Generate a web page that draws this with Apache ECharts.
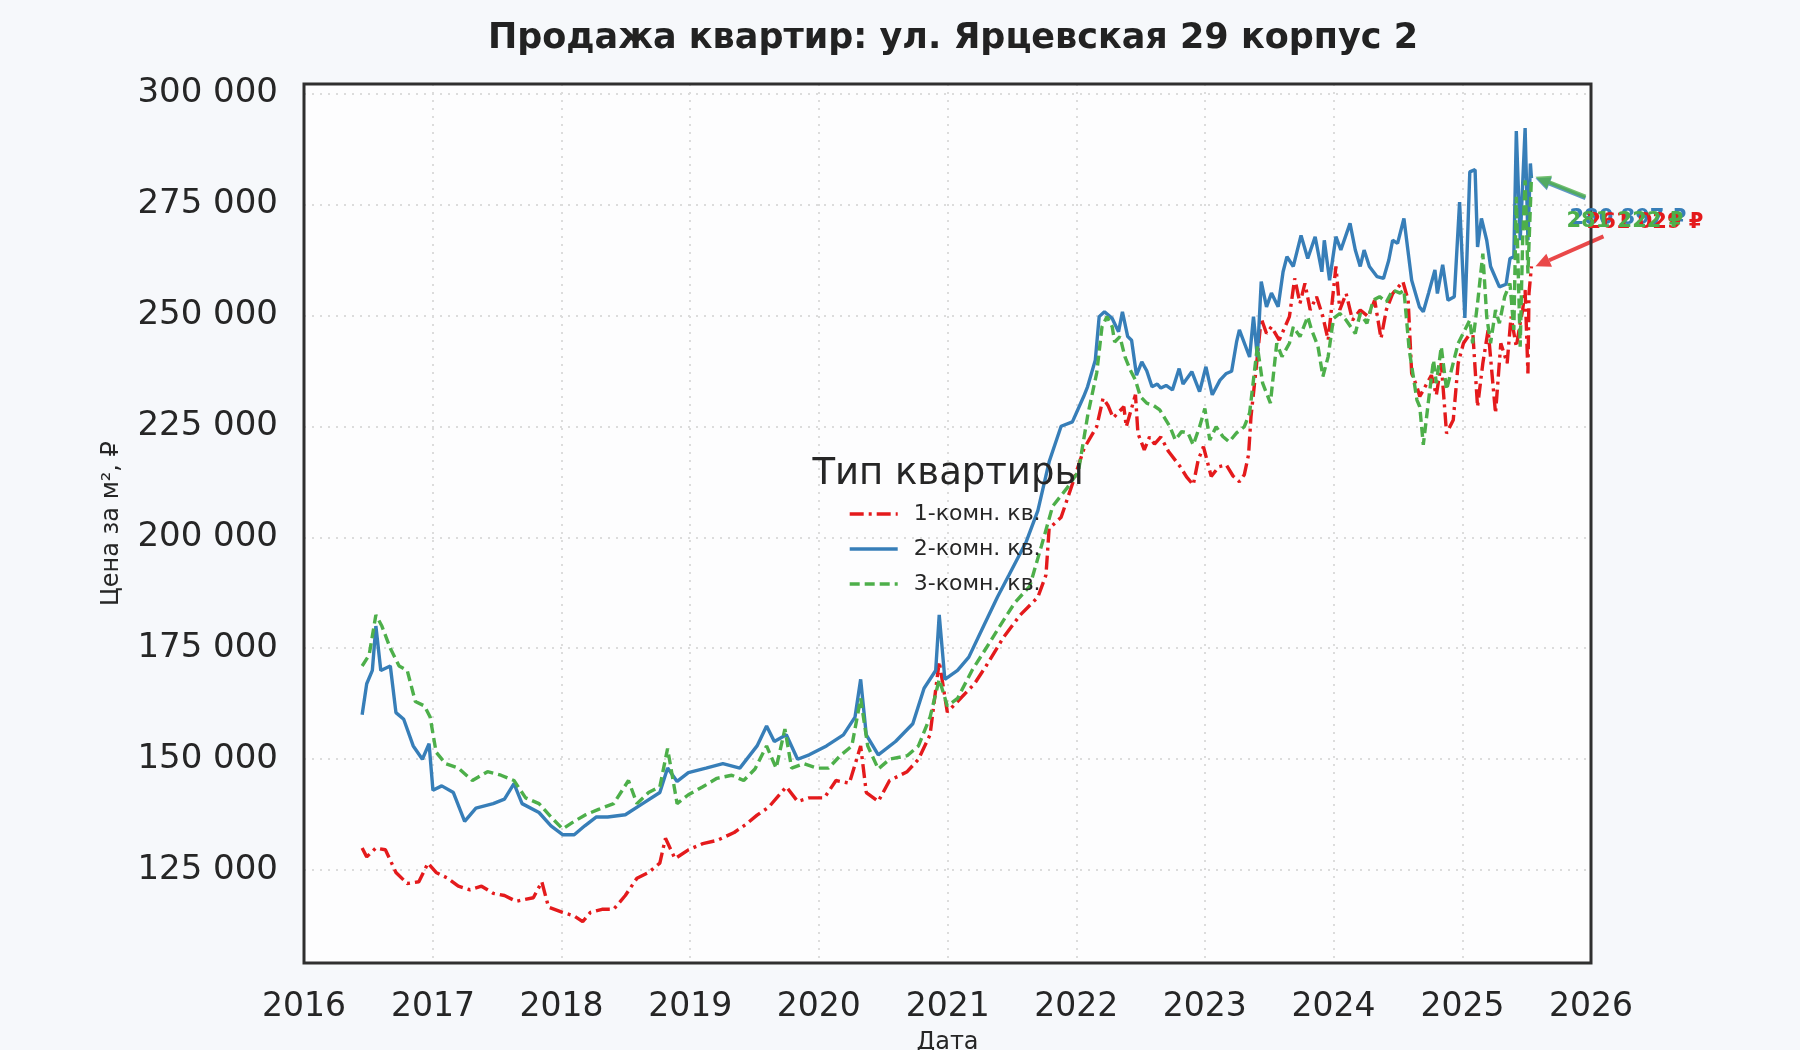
<!DOCTYPE html>
<html>
<head>
<meta charset="utf-8">
<script src="https://cdn.jsdelivr.net/npm/echarts@6/dist/echarts.min.js"></script>
<style>
  html, body { margin: 0; padding: 0; background: #f6f8fb; }
  #chart { width: 1800px; height: 1050px; }
</style>
</head>
<body>
<div id="chart"></div>
<script>
  // --- data ---
  const seriesNames = ['1-комн. кв.', '2-комн. кв.', '3-комн. кв.'];
  const yTicks = [125000, 150000, 175000, 200000, 225000, 250000, 275000, 300000];
  const xYears = [2016, 2017, 2018, 2019, 2020, 2021, 2022, 2023, 2024, 2025, 2026];

  // 1-комн.
  const redDates = [
    '2016-06-14', '2016-06-27', '2016-07-23', '2016-08-19', '2016-09-18', '2016-10-20', '2016-11-22', '2016-12-18',
    '2017-01-10', '2017-02-12', '2017-03-14', '2017-04-16', '2017-05-19', '2017-06-21', '2017-07-23', '2017-08-25',
    '2017-10-13', '2017-11-06', '2017-11-25', '2018-01-04', '2018-02-06', '2018-03-02', '2018-03-24', '2018-04-26',
    '2018-05-29', '2018-07-01', '2018-08-03', '2018-09-05', '2018-10-07', '2018-10-23', '2018-11-19', '2018-12-27',
    '2019-02-06', '2019-03-18', '2019-05-06', '2019-06-08', '2019-07-10', '2019-08-12', '2019-10-01', '2019-11-02',
    '2019-12-05', '2020-01-17', '2020-02-19', '2020-03-28', '2020-04-29', '2020-05-15', '2020-06-18', '2020-07-20',
    '2020-09-08', '2020-10-10', '2020-11-12', '2020-12-08', '2020-12-31', '2021-01-29', '2021-03-18', '2021-04-20',
    '2021-06-08', '2021-07-26', '2021-09-14', '2021-10-07', '2021-10-16', '2021-11-19', '2021-12-21', '2022-01-23',
    '2022-02-28', '2022-03-18', '2022-04-01', '2022-04-16', '2022-05-16', '2022-05-23', '2022-06-18', '2022-06-25',
    '2022-07-13', '2022-07-28', '2022-08-11', '2022-08-29', '2022-09-20', '2022-10-23', '2022-11-10', '2022-11-29',
    '2022-12-13', '2022-12-28', '2023-01-19', '2023-02-10', '2023-03-03', '2023-03-22', '2023-04-09', '2023-04-23',
    '2023-05-05', '2023-05-12', '2023-05-27', '2023-06-10', '2023-06-25', '2023-07-09', '2023-07-31', '2023-08-29',
    '2023-09-13', '2023-09-28', '2023-10-12', '2023-10-27', '2023-11-14', '2023-12-02', '2023-12-17', '2024-01-08',
    '2024-01-19', '2024-02-06', '2024-02-24', '2024-03-17', '2024-04-09', '2024-04-27', '2024-05-15', '2024-05-30',
    '2024-06-17', '2024-07-16', '2024-07-31', '2024-08-10', '2024-08-25', '2024-09-02', '2024-10-05', '2024-10-19',
    '2024-11-02', '2024-11-17', '2024-12-06', '2024-12-20', '2025-01-04', '2025-01-30', '2025-02-13', '2025-02-28',
    '2025-03-15', '2025-04-05', '2025-04-20', '2025-05-08', '2025-05-19', '2025-06-03', '2025-06-14', '2025-06-21',
    '2025-06-28', '2025-07-06', '2025-07-09', '2025-07-16'
  ];
  const redValues = [
    130000, 128000, 130000, 129600, 124500, 122000, 122400, 126600,
    124500, 123200, 121400, 120600, 121400, 119800, 119300, 118000,
    118800, 122400, 116700, 115500, 114700, 113400, 115500, 116200,
    116200, 119300, 123200, 124500, 126600, 132200, 127600, 129600,
    131000, 131700, 133500, 135300, 137400, 139200, 143800, 140500,
    141300, 141300, 145200, 144600, 153000, 142500, 140500, 145200,
    147200, 150000, 155500, 172000, 160600, 163000, 167000, 171000,
    177400, 182500, 186500, 191500, 202000, 204500, 212000, 220000,
    224900, 231300, 229700, 226900, 229400, 224900, 232100, 223400,
    219700, 222600, 221000, 222600, 219300, 215900, 213600, 211800,
    217400, 220400, 213700, 215900, 216300, 213800, 212500, 214100,
    218600, 227200, 238400, 249300, 245900, 247400, 244400, 249700,
    258300, 252700, 257200, 251200, 254200, 249700, 244400, 261000,
    251200, 254900, 248900, 251200, 249700, 253400, 244800, 251200,
    254900, 257600, 253400, 236900, 233900, 231700, 236500, 232000,
    239200, 223400, 226400, 239200, 243700, 246700, 229400, 239200,
    246700, 227900, 243700, 239200, 249700, 242900, 248200, 251200,
    255700, 236900, 255000, 261029
  ];

  // 2-комн.
  const blueDates = [
    '2016-06-14', '2016-06-27', '2016-07-13', '2016-07-23', '2016-08-06', '2016-09-02', '2016-09-18', '2016-10-10',
    '2016-11-06', '2016-12-02', '2016-12-21', '2017-01-01', '2017-01-26', '2017-02-28', '2017-04-01', '2017-05-03',
    '2017-06-21', '2017-07-23', '2017-08-19', '2017-09-11', '2017-10-29', '2017-12-02', '2018-01-04', '2018-02-06',
    '2018-03-08', '2018-04-10', '2018-05-12', '2018-07-01', '2018-08-19', '2018-10-07', '2018-10-29', '2018-11-25',
    '2018-12-27', '2019-02-15', '2019-04-04', '2019-05-22', '2019-07-10', '2019-08-06', '2019-08-28', '2019-10-01',
    '2019-11-02', '2019-12-05', '2020-01-23', '2020-03-11', '2020-04-13', '2020-04-29', '2020-05-15', '2020-06-18',
    '2020-08-06', '2020-09-24', '2020-10-26', '2020-11-28', '2020-12-08', '2020-12-24', '2021-01-29', '2021-03-02',
    '2021-04-13', '2021-05-22', '2021-06-24', '2021-08-12', '2021-09-14', '2021-10-16', '2021-11-19', '2021-12-21',
    '2022-01-22', '2022-02-02', '2022-02-24', '2022-03-07', '2022-03-22', '2022-04-13', '2022-05-01', '2022-05-12',
    '2022-05-27', '2022-06-07', '2022-06-21', '2022-07-06', '2022-07-20', '2022-08-04', '2022-08-19', '2022-08-29',
    '2022-09-13', '2022-10-01', '2022-10-20', '2022-10-31', '2022-11-25', '2022-12-17', '2023-01-04', '2023-01-22',
    '2023-02-13', '2023-03-03', '2023-03-18', '2023-04-01', '2023-04-09', '2023-05-08', '2023-05-19', '2023-05-30',
    '2023-06-10', '2023-06-25', '2023-07-09', '2023-07-28', '2023-08-11', '2023-08-22', '2023-09-09', '2023-10-01',
    '2023-10-20', '2023-11-10', '2023-11-29', '2023-12-06', '2023-12-21', '2024-01-08', '2024-01-22', '2024-02-17',
    '2024-03-03', '2024-03-17', '2024-03-28', '2024-04-12', '2024-05-04', '2024-05-22', '2024-06-06', '2024-06-17',
    '2024-07-01', '2024-07-19', '2024-08-10', '2024-09-01', '2024-09-12', '2024-09-27', '2024-10-15', '2024-10-22',
    '2024-11-06', '2024-11-21', '2024-12-09', '2024-12-24', '2025-01-08', '2025-01-22', '2025-02-06', '2025-02-13',
    '2025-02-24', '2025-03-11', '2025-03-22', '2025-04-16', '2025-05-05', '2025-05-16', '2025-05-27', '2025-06-03',
    '2025-06-14', '2025-06-28', '2025-07-06', '2025-07-13', '2025-07-16'
  ];
  const blueValues = [
    160000, 167000, 170000, 180000, 170000, 171000, 160500, 159000,
    153000, 150000, 153500, 143000, 144000, 142500, 136000, 139000,
    140000, 141000, 144500, 140000, 138000, 135000, 133000, 133000,
    135000, 137000, 137000, 137500, 140000, 142500, 148000, 145000,
    147000, 148000, 149000, 148000, 153000, 157500, 154000, 155500,
    150000, 151000, 153000, 155500, 159500, 168000, 155500, 151000,
    154000, 158000, 166000, 170000, 182500, 168000, 170000, 173000,
    180000, 186500, 191500, 199000, 206000, 217000, 225000, 226000,
    231700, 233900, 239900, 249700, 250800, 249300, 246300, 250800,
    245200, 244400, 236500, 239500, 237500, 233900, 234500, 233600,
    234200, 233200, 238000, 234500, 237300, 232800, 238400, 232100,
    235400, 236900, 237400, 244000, 246700, 240600, 249700, 240600,
    257600, 251900, 255000, 251900, 259800, 263200, 261000, 268000,
    262800, 267700, 259800, 266900, 257900, 267700, 264700, 270700,
    264700, 261000, 264700, 261000, 258700, 258300, 262400, 266900,
    266200, 271800, 257900, 251900, 250800, 255000, 260200, 254900,
    261400, 253400, 254200, 275500, 249400, 282300, 282800, 265400,
    271800, 266900, 261000, 256400, 257000, 262800, 263200, 291500,
    266900, 292200, 266900, 284200, 280897
  ];

  // 3-комн.
  const greenDates = [
    '2016-06-14', '2016-07-04', '2016-07-23', '2016-08-09', '2016-09-02', '2016-09-27', '2016-10-20', '2016-11-12',
    '2016-12-08', '2016-12-24', '2017-01-10', '2017-02-06', '2017-03-14', '2017-04-23', '2017-06-05', '2017-07-13',
    '2017-08-19', '2017-09-21', '2017-10-29', '2017-12-02', '2018-01-04', '2018-02-06', '2018-03-08', '2018-04-16',
    '2018-05-29', '2018-07-10', '2018-08-03', '2018-09-05', '2018-10-07', '2018-10-29', '2018-11-25', '2018-12-27',
    '2019-02-06', '2019-03-18', '2019-04-29', '2019-06-02', '2019-07-04', '2019-08-06', '2019-09-02', '2019-09-27',
    '2019-10-16', '2019-11-19', '2019-12-27', '2020-01-29', '2020-03-02', '2020-04-04', '2020-04-29', '2020-05-19',
    '2020-06-18', '2020-07-20', '2020-09-08', '2020-10-10', '2020-11-12', '2020-12-08', '2020-12-31', '2021-01-29',
    '2021-03-11', '2021-04-20', '2021-05-29', '2021-07-10', '2021-08-22', '2021-09-24', '2021-10-26', '2021-12-05',
    '2022-01-07', '2022-02-03', '2022-02-28', '2022-03-15', '2022-03-29', '2022-04-13', '2022-04-20', '2022-05-05',
    '2022-05-19', '2022-06-03', '2022-06-18', '2022-07-02', '2022-07-20', '2022-08-08', '2022-08-26', '2022-09-24',
    '2022-10-09', '2022-10-27', '2022-11-14', '2022-11-29', '2022-12-17', '2023-01-01', '2023-01-15', '2023-02-02',
    '2023-02-21', '2023-03-11', '2023-04-01', '2023-04-23', '2023-05-08', '2023-05-30', '2023-06-14', '2023-07-06',
    '2023-07-24', '2023-08-08', '2023-08-29', '2023-09-09', '2023-09-28', '2023-10-20', '2023-10-31', '2023-11-18',
    '2023-12-02', '2023-12-17', '2024-01-01', '2024-01-19', '2024-02-06', '2024-03-03', '2024-03-17', '2024-04-05',
    '2024-04-23', '2024-05-11', '2024-05-30', '2024-06-17', '2024-07-08', '2024-07-19', '2024-08-03', '2024-08-25',
    '2024-09-02', '2024-09-12', '2024-09-27', '2024-10-11', '2024-10-19', '2024-11-02', '2024-11-17', '2024-12-01',
    '2024-12-20', '2025-01-22', '2025-01-30', '2025-02-13', '2025-02-28', '2025-03-11', '2025-03-22', '2025-04-05',
    '2025-04-16', '2025-05-01', '2025-05-16', '2025-05-27', '2025-06-03', '2025-06-14', '2025-06-21', '2025-06-28',
    '2025-07-06', '2025-07-16'
  ];
  const greenValues = [
    171000, 173500, 182500, 180000, 175000, 171000, 170000, 163000,
    162000, 159500, 151600, 149000, 148000, 145200, 147200, 146400,
    145200, 141300, 140000, 137000, 134300, 136000, 137400, 138700,
    140000, 145200, 140000, 142500, 143800, 152400, 140000, 142000,
    143800, 145700, 146400, 145200, 147800, 153000, 148000, 156800,
    148000, 149000, 148000, 148000, 150800, 153000, 163700, 153000,
    147800, 150000, 150800, 153000, 159500, 168000, 162000, 163700,
    170000, 175000, 180000, 185200, 189000, 198000, 207000, 211000,
    214800, 227700, 237000, 247400, 249700, 247400, 244000, 245200,
    240700, 237700, 235400, 231700, 230200, 229700, 228700, 224900,
    221900, 223800, 223500, 220800, 224900, 229000, 221900, 224900,
    222700, 221500, 223500, 224900, 228000, 243000, 234700, 230200,
    243700, 240700, 243700, 247400, 245200, 249700, 246700, 243000,
    236200, 240700, 249300, 250400, 248900, 245900, 250400, 248200,
    253400, 254200, 253000, 255700, 255000, 255700, 242200, 230900,
    229400, 220800, 230900, 239900, 234700, 242900, 233200, 237700,
    243700, 248900, 243700, 252700, 263900, 249700, 243700, 251200,
    248200, 254200, 257200, 246700, 276700, 242900, 266900, 280400,
    259400, 281222
  ];

  const endLabels = ['261 029 ₽', '280 897 ₽', '281 222 ₽'];
  const colors = ['#e41a1c', '#377eb8', '#4daf4a'];

  const fmt = v => String(v).replace(/\B(?=(\d{3})+(?!\d))/g, ' ');
  const pairs = (d, v) => d.map((x, i) => [Date.parse(x), v[i]]);
  const yearStamps = xYears.map(y => Date.UTC(y, 0, 1));
  const yMin = 104100, yMax = 302100;

  const chart = echarts.init(document.getElementById('chart'));
  const font = 'DejaVu Sans';

  const lineSeries = (name, data, color, type) => ({
    name: name,
    type: 'line',
    data: data,
    symbol: 'none',
    smooth: false,
    z: 3,
    lineStyle: { color: color, width: 3.4, type: type },
    itemStyle: { color: color }
  });

  const option = {
    backgroundColor: '#f6f8fb',
    animation: false,
    textStyle: { fontFamily: font },
    title: {
      text: 'Продажа квартир: ул. Ярцевская 29 корпус 2',
      left: 948,
      textAlign: 'center',
      top: 16,
      textStyle: { fontFamily: font, fontSize: 35, fontWeight: 'bold', color: '#222' }
    },
    grid: {
      left: 304, right: 209, top: 84, bottom: 87,
      outerBoundsMode: 'none',
      containLabel: false,
      show: true,
      backgroundColor: '#fdfdfe',
      borderWidth: 0
    },
    legend: {
      orient: 'vertical',
      left: 848,
      top: 503,
      itemGap: 13,
      itemWidth: 48,
      itemHeight: 20,
      padding: 0,
      data: seriesNames,
      itemStyle: { color: 'rgba(0,0,0,0)', borderColor: 'rgba(0,0,0,0)', borderWidth: 0, opacity: 0 },
      lineStyle: { width: 3.4 },
      textStyle: { fontFamily: font, fontSize: 22, color: '#262626', padding: [0, 0, 0, 11] }
    },
    xAxis: {
      type: 'value',
      min: yearStamps[0],
      max: yearStamps[yearStamps.length - 1],
      name: 'Дата',
      nameLocation: 'middle',
      nameGap: 68,
      nameTextStyle: { fontFamily: font, fontSize: 24, color: '#262626' },
      axisLine: { show: false },
      axisTick: { show: false, customValues: yearStamps },
      axisLabel: {
        customValues: yearStamps,
        margin: 28,
        fontFamily: font,
        fontSize: 33,
        color: '#262626',
        formatter: v => String(new Date(v).getUTCFullYear())
      },
      splitLine: { show: true, lineStyle: { color: '#dcdcdc', type: [2, 6], width: 2 } }
    },
    yAxis: {
      type: 'value',
      min: yMin,
      max: yMax,
      name: 'Цена за м², ₽',
      nameLocation: 'middle',
      nameGap: 180,
      nameTextStyle: { fontFamily: font, fontSize: 24, color: '#262626' },
      axisLine: { show: false },
      axisTick: { show: false, customValues: yTicks },
      axisLabel: {
        customValues: yTicks,
        margin: 26,
        fontFamily: font,
        fontSize: 34,
        color: '#262626',
        formatter: v => fmt(v)
      },
      splitLine: { show: true, lineStyle: { color: '#dcdcdc', type: [2, 6], width: 2 } }
    },
    series: [
      lineSeries(seriesNames[0], pairs(redDates, redValues), colors[0], [14, 5, 3, 5]),
      lineSeries(seriesNames[1], pairs(blueDates, blueValues), colors[1], 'solid'),
      lineSeries(seriesNames[2], pairs(greenDates, greenValues), colors[2], [10, 5])
    ]
  };

  chart.setOption(option);

  // plot frame drawn on top of the grid lines
  const c0 = chart.convertToPixel({ gridIndex: 0 }, [yearStamps[0], yMax]);
  const c1 = chart.convertToPixel({ gridIndex: 0 }, [yearStamps[yearStamps.length - 1], yMin]);
  const graphics = [{
    type: 'rect',
    shape: { x: c0[0], y: c0[1], width: c1[0] - c0[0], height: c1[1] - c0[1] },
    style: { fill: 'none', stroke: '#2f2f2f', lineWidth: 3 },
    z: 30
  }, {
    type: 'text',
    x: 948, y: 474,
    style: {
      text: 'Тип квартиры', fill: '#262626', fontFamily: font, fontSize: 37,
      align: 'center', verticalAlign: 'middle'
    },
    z: 10
  }];

  // end-of-series annotations: arrow from the label to the last point
  const lastPts = [
    [Date.parse(redDates[redDates.length - 1]), redValues[redValues.length - 1]],
    [Date.parse(blueDates[blueDates.length - 1]), blueValues[blueValues.length - 1]],
    [Date.parse(greenDates[greenDates.length - 1]), greenValues[greenValues.length - 1]]
  ];
  // offsets in px from the point: arrow tail, text anchor
  const ann = [
    { tail: [72, -30], text: [172, -44], align: 'right' },
    { tail: [54, 20], text: [38, 40], align: 'left' },
    { tail: [54, 20], text: [35, 45], align: 'left' }
  ];
  [1, 2, 0].forEach(i => {
    const tip = chart.convertToPixel({ gridIndex: 0 }, lastPts[i]);
    const tip2 = [tip[0] + 4, tip[1]];
    const tail = [tip[0] + ann[i].tail[0], tip[1] + ann[i].tail[1]];
    const dx = tip2[0] - tail[0], dy = tip2[1] - tail[1];
    const len = Math.sqrt(dx * dx + dy * dy);
    const ux = dx / len, uy = dy / len;
    const hl = 15, hw = 7;
    const base = [tip2[0] - ux * hl, tip2[1] - uy * hl];
    graphics.push({
      type: 'line',
      shape: { x1: tail[0], y1: tail[1], x2: base[0], y2: base[1] },
      style: { stroke: colors[i], lineWidth: 4, opacity: 0.8 },
      z: 20
    });
    graphics.push({
      type: 'polygon',
      shape: { points: [tip2, [base[0] - uy * hw, base[1] + ux * hw], [base[0] + uy * hw, base[1] - ux * hw]] },
      style: { fill: colors[i], opacity: 0.8 },
      z: 20
    });
  });
  [1, 0, 2].forEach(i => {
    const tip = chart.convertToPixel({ gridIndex: 0 }, lastPts[i]);
    graphics.push({
      type: 'text',
      x: tip[0] + ann[i].text[0],
      y: tip[1] + ann[i].text[1],
      style: {
        text: endLabels[i], fill: colors[i], fontFamily: font, fontSize: 21, fontWeight: 'bold',
        align: ann[i].align, verticalAlign: 'middle'
      },
      z: 31
    });
  });
  chart.setOption({ graphic: graphics });

  window.addEventListener('resize', () => { chart.resize(); });
</script>
</body>
</html>
